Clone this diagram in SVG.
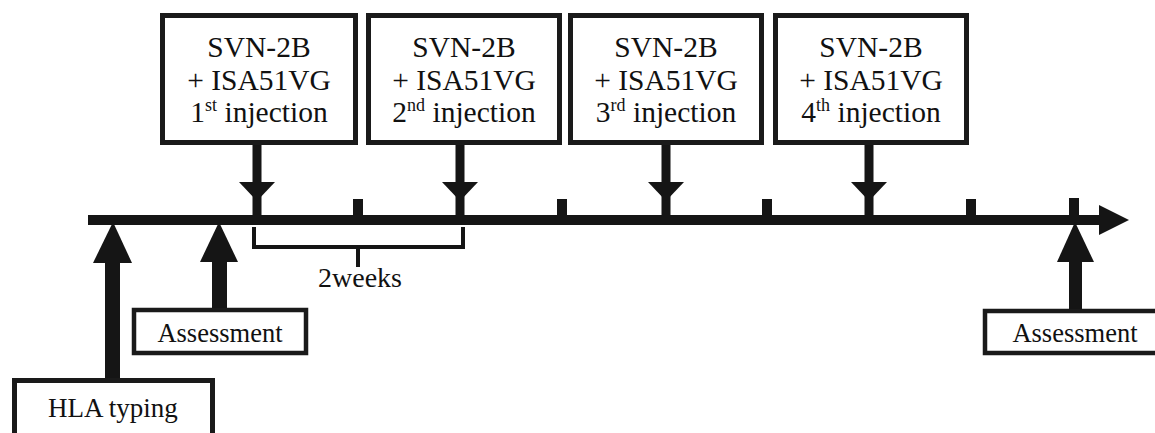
<svg xmlns="http://www.w3.org/2000/svg" width="1155" height="433" viewBox="0 0 1155 433">
<style>
.box{fill:#fff;stroke:#1a1a1a;stroke-width:5}
.sbox{fill:#fff;stroke:#1a1a1a;stroke-width:4.5}
text{font-family:"Liberation Serif","Times New Roman",serif;fill:#111;text-anchor:middle}
.big{font-size:29.5px}
.mid{font-size:27px}
.asm{font-size:26.5px}
.wk{font-size:28px}
.sup{font-size:18px}
.ink{fill:#151515}
</style>
<defs>
<g id="downArrow">
<rect x="-4.5" y="0" width="9" height="72" class="ink"/>
<polygon points="-18,37 18,37 0,56" class="ink"/>
</g>
<rect id="tick" x="-5" y="0" width="10" height="18" class="ink"/>
</defs>

<g id="connectors">
<rect x="88" y="215" width="1013" height="10" class="ink"/>
<polygon points="1099,205 1129,220 1099,235" class="ink"/>
<use href="#tick" x="358" y="199"/>
<use href="#tick" x="562" y="199"/>
<use href="#tick" x="767" y="199"/>
<use href="#tick" x="971" y="199"/>
<use href="#tick" x="1074" y="198"/>
<use href="#downArrow" x="257" y="145"/>
<use href="#downArrow" x="460" y="145"/>
<use href="#downArrow" x="666" y="145"/>
<use href="#downArrow" x="869" y="145"/>
<rect x="105" y="250" width="15" height="130" class="ink"/>
<polygon points="93,263 132,263 113,222" class="ink"/>
<rect x="212" y="250" width="15" height="60" class="ink"/>
<polygon points="200,262 238,262 219,222" class="ink"/>
<rect x="1069" y="250" width="13" height="61" class="ink"/>
<polygon points="1057,262 1094,262 1075,222" class="ink"/>
</g>

<g id="interval">
<path d="M254,227 V247 H463 V227 M358,247 V267" fill="none" stroke="#151515" stroke-width="4"/>
<text class="wk" x="360" y="287">2weeks</text>
</g>

<g id="inj1">
<rect class="box" x="162.5" y="15.5" width="193" height="127"/>
<text class="big" x="259" y="57">SVN-2B</text>
<text class="big" x="259" y="90">+ ISA51VG</text>
<text class="big" x="259" y="122">1<tspan class="sup" dy="-11">st</tspan><tspan dy="11"> injection</tspan></text>
</g>
<g id="inj2">
<rect class="box" x="368.5" y="15.5" width="191" height="127"/>
<text class="big" x="464" y="57">SVN-2B</text>
<text class="big" x="464" y="90">+ ISA51VG</text>
<text class="big" x="464" y="122">2<tspan class="sup" dy="-11">nd</tspan><tspan dy="11"> injection</tspan></text>
</g>
<g id="inj3">
<rect class="box" x="570.5" y="15.5" width="191" height="127"/>
<text class="big" x="666" y="57">SVN-2B</text>
<text class="big" x="666" y="90">+ ISA51VG</text>
<text class="big" x="666" y="122">3<tspan class="sup" dy="-11">rd</tspan><tspan dy="11"> injection</tspan></text>
</g>
<g id="inj4">
<rect class="box" x="775.5" y="15.5" width="191" height="127"/>
<text class="big" x="871" y="57">SVN-2B</text>
<text class="big" x="871" y="90">+ ISA51VG</text>
<text class="big" x="871" y="122">4<tspan class="sup" dy="-11">th</tspan><tspan dy="11"> injection</tspan></text>
</g>

<g id="assessment1">
<rect class="sbox" x="134" y="310" width="172" height="43"/>
<text class="asm" x="220" y="342">Assessment</text>
</g>
<g id="assessment2">
<rect class="sbox" x="985" y="311" width="180" height="42"/>
<text class="asm" x="1075" y="342">Assessment</text>
</g>
<g id="hla">
<rect class="box" x="14.5" y="380.5" width="198" height="70"/>
<text class="mid" x="113" y="417">HLA typing</text>
</g>
</svg>
